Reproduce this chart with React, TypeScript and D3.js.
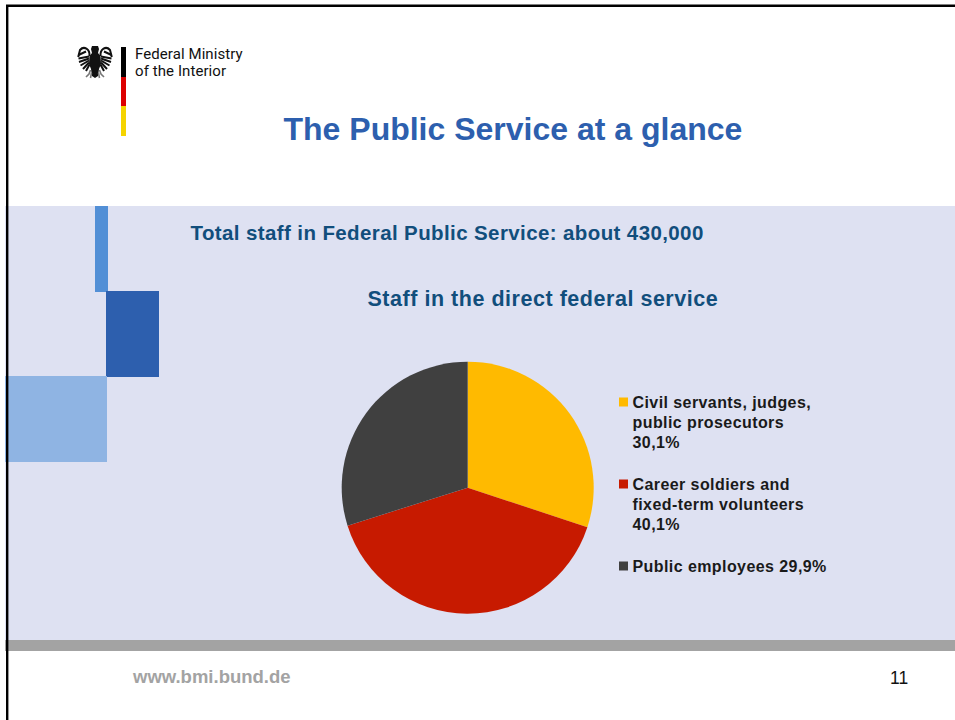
import React, { useEffect, useRef } from "react";
import * as d3 from "d3";

// slide data
const categories = ["Civil servants, judges, public prosecutors", "Career soldiers and fixed-term volunteers", "Public employees"];
const shares = [30.1, 40.1, 29.9];
const sliceColors = ["#ffba00", "#c71a00", "#404040"];
const legendLines = [
  ["Civil servants, judges,", "public prosecutors", "30,1%"],
  ["Career soldiers and", "fixed-term volunteers", "40,1%"],
  ["Public employees 29,9%"],
];
const legendY = [408, 490, 572];

const width = 955;
const height = 720;
const sans = "'Liberation Sans', Arial, sans-serif";

// half of the eagle, mirrored around its centre line
const eagleBody = "M0 1 L3 1 L4 4 L3 8 L5.5 11 L6 19 L4 24 L3 31 L0 33 Z";
const eagleWing = [
  "M5.5 11 C5 4 11 0.5 15 5 L16.8 12",
  "M9 6.5 L16.5 10",
  "M6 11.5 L16.5 13.5",
  "M6 13.5 L16 17",
  "M6 15.5 L14.5 20.5",
  "M6 17.5 L12 24",
  "M5.5 19.5 L9 26",
];
const eagleLeg = "M4.5 25 L6 29 L9 32 M3.5 28 L4.5 33";

function App() {
  const ref = useRef<SVGSVGElement>(null);

  useEffect(() => {
    document.body.style.margin = "0";
    const svg = d3.select(ref.current);
    svg.selectAll("*").remove();

    // background panels
    svg.append("rect").attr("width", width).attr("height", height).attr("fill", "#ffffff");
    svg.append("rect").attr("x", 5).attr("y", 206).attr("width", 950).attr("height", 434).attr("fill", "#dee1f2");
    svg.append("rect").attr("x", 95).attr("y", 206).attr("width", 13).attr("height", 86).attr("fill", "#528fd6");
    svg.append("rect").attr("x", 106).attr("y", 291).attr("width", 53).attr("height", 86).attr("fill", "#2d5fae");
    svg.append("rect").attr("x", 5).attr("y", 376).attr("width", 102).attr("height", 86).attr("fill", "#8fb4e3");
    svg.append("rect").attr("x", 5).attr("y", 640).attr("width", 950).attr("height", 11).attr("fill", "#a3a3a3");

    // slide border
    svg.append("path").attr("d", `M7.2 ${height} V5.8 H${width}`).attr("fill", "none").attr("stroke", "#000").attr("stroke-width", 2.4);

    // logo
    [1, -1].forEach((side) => {
      const half = svg.append("g").attr("transform", `translate(95,45) scale(${side},1)`);
      half.append("path").attr("d", eagleBody).attr("fill", "#111");
      half.selectAll("path.feather")
        .data(eagleWing)
        .join("path")
        .attr("class", "feather")
        .attr("d", (d) => d)
        .attr("fill", "none")
        .attr("stroke", "#111")
        .attr("stroke-width", 2);
      half.append("path").attr("d", eagleLeg).attr("fill", "none").attr("stroke", "#777").attr("stroke-width", 1.6);
    });
    svg.append("rect").attr("x", 121).attr("y", 47).attr("width", 5).attr("height", 30).attr("fill", "#000");
    svg.append("rect").attr("x", 121).attr("y", 77).attr("width", 5).attr("height", 29).attr("fill", "#dd0000");
    svg.append("rect").attr("x", 121).attr("y", 106).attr("width", 5).attr("height", 30).attr("fill", "#f5d400");

    const addText = (x: number, y: number, str: string, size: number, fill: string, weight = "normal", spacing = 0, family = sans) =>
      svg.append("text").attr("x", x).attr("y", y).attr("font-family", family).attr("font-size", size)
        .attr("font-weight", weight).attr("letter-spacing", spacing).attr("fill", fill).text(str);

    addText(135, 59, "Federal Ministry", 15, "#111", "normal", 0.08, "Roboto, sans-serif");
    addText(135, 76, "of the Interior", 15, "#111", "normal", 0.08, "Roboto, sans-serif");
    addText(283.5, 140, "The Public Service at a glance", 32, "#2d5fae", "bold");
    addText(190.5, 240, "Total staff in Federal Public Service: about 430,000", 20.5, "#114e7c", "bold", 0.39);
    addText(367.5, 306, "Staff in the direct federal service", 21.5, "#114e7c", "bold", 0.53);

    // pie
    const pie = d3.pie<number>().value((d) => d).sort(null);
    const arc = d3.arc<d3.PieArcDatum<number>>().innerRadius(0).outerRadius(126);
    svg.append("g")
      .attr("transform", "translate(467.7,487.7)")
      .selectAll("path")
      .data(pie(shares))
      .join("path")
      .attr("d", arc)
      .attr("fill", (_, i) => sliceColors[i]);

    // legend
    categories.forEach((_, i) => {
      const y = legendY[i];
      svg.append("rect").attr("x", 619).attr("y", y - 10.5).attr("width", 9).attr("height", 9).attr("fill", sliceColors[i]);
      legendLines[i].forEach((line, j) => {
        addText(632.5, y + j * 20, line, 16, "#1a1a1a", "bold", 0.42);
      });
    });

    // footer
    addText(133, 683, "www.bmi.bund.de", 18.5, "#a3a3a3", "bold");
    addText(890, 684, "11", 17.5, "#111");
  }, []);

  return <svg ref={ref} width={width} height={height} style={{ display: "block" }} />;
}

export default App;
